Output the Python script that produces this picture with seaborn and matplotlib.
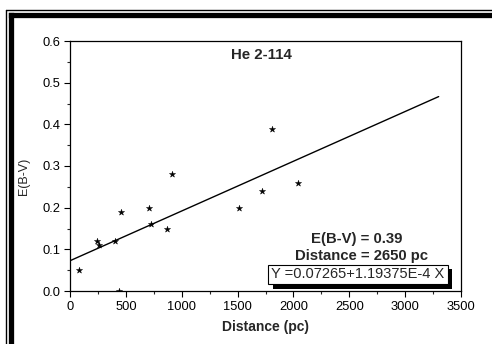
import matplotlib
matplotlib.use("Agg")
import matplotlib.pyplot as plt
import matplotlib.patheffects as pe
from matplotlib.lines import Line2D
from matplotlib.ticker import MultipleLocator
import seaborn as sns
import pandas as pd
import numpy as np

# Data
distance = [80, 242, 260, 403, 438, 453, 710, 722, 865, 916, 1512, 1715, 1805, 2040]
ebv = [0.05, 0.12, 0.11, 0.12, 0.0, 0.19, 0.20, 0.16, 0.15, 0.28, 0.20, 0.24, 0.39, 0.26]
intercept = 0.07265
slope = 1.19375e-4
fit_x = [0, 3300]
title = "He 2-114"
annot1 = "E(B-V) = 0.39"
annot2 = "Distance = 2650 pc"
eq_text = "Y =0.07265+1.19375E-4 X"

sns.set_theme(style="ticks")
plt.rcParams['font.family'] = ['Liberation Sans', 'DejaVu Sans']

fig = plt.figure(figsize=(4.92, 3.44), dpi=100)
ax = fig.add_axes([70/492, 53/344, 391/492, 250/344])

df = pd.DataFrame({"Distance": distance, "EBV": ebv})
sns.scatterplot(data=df, x="Distance", y="EBV", marker="*", s=22, color="black",
                edgecolor="black", linewidth=0.3, ax=ax)
fit_df = pd.DataFrame({"x": fit_x, "y": [intercept + slope * v for v in fit_x]})
sns.lineplot(data=fit_df, x="x", y="y", color="black", linewidth=1.0, ax=ax)

ax.set_xlim(0, 3500)
ax.set_ylim(0, 0.6)
ax.xaxis.set_major_locator(MultipleLocator(500))
ax.xaxis.set_minor_locator(MultipleLocator(250))
ax.yaxis.set_minor_locator(MultipleLocator(0.05))
ax.set_yticks(np.arange(0, 0.61, 0.1))
ax.set_yticklabels([f"{v:.1f}" for v in np.arange(0, 0.61, 0.1)])
ax.tick_params(axis="both", which="major", direction="out", length=4, width=0.8,
               labelsize=9.3, colors="black", pad=3)
ax.tick_params(axis="both", which="minor", direction="out", length=2.5, width=0.8)
for s in ax.spines.values():
    s.set_visible(True)
    s.set_linewidth(0.9)
    s.set_color("black")

ax.set_xlabel("Distance (pc)", fontsize=10, fontweight="bold", labelpad=5)
ax.set_ylabel("E(B-V)", fontsize=9)
ax.yaxis.set_label_coords(-0.103, 0.46)

ax.text(1710, 0.567, title, ha="center", va="center", fontsize=10.8, fontweight="bold")
ax.text(2569, 0.125, annot1, ha="center", va="center", fontsize=10.7, fontweight="bold")
ax.text(2613, 0.084, annot2, ha="center", va="center", fontsize=10.7, fontweight="bold")
t = ax.text(2578, 0.0396, eq_text, ha="center", va="center", fontsize=10.5,
            bbox=dict(boxstyle="square,pad=0.2", facecolor="white", edgecolor="black", linewidth=0.8))
t.get_bbox_patch().set_path_effects([
    pe.SimplePatchShadow(offset=(3, -3), shadow_rgbFace="black", alpha=1.0),
    pe.Normal()])

# outer frame (double line, top and left)
W, H = 492, 344
def fx(p): return p / W
def fy(p): return 1 - p / H
fig.add_artist(Line2D([fx(5.5), fx(5.5)], [0, fy(9.5)], color="black", lw=1.0, transform=fig.transFigure))
fig.add_artist(Line2D([fx(5.5), 1], [fy(9.5), fy(9.5)], color="black", lw=1.0, transform=fig.transFigure))
fig.add_artist(Line2D([fx(10.5), fx(10.5)], [0, fy(14.5)], color="black", lw=3.8, transform=fig.transFigure, solid_capstyle="projecting"))
fig.add_artist(Line2D([fx(10.5), 1], [fy(14.5), fy(14.5)], color="black", lw=3.8, transform=fig.transFigure, solid_capstyle="projecting"))

fig.savefig("out.png", dpi=100)
